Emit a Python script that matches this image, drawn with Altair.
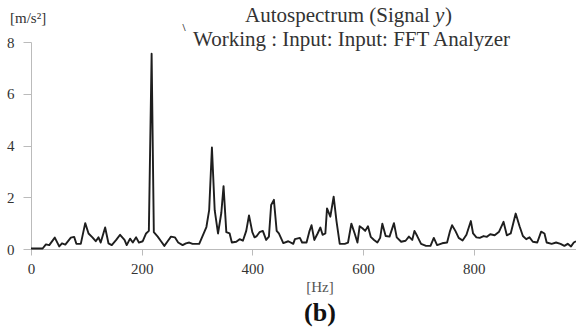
import altair as alt
import pandas as pd

# Frequency (Hz) and autospectrum value (m/s^2)
freq = [0, 21, 27, 33, 43, 51, 56, 62, 72, 78, 82, 90, 98, 104, 111, 117, 122, 126,
        134, 140, 146, 154, 161, 169, 173, 179, 184, 190, 195, 202, 208, 213, 218,
        222, 229, 235, 241, 247, 253, 260, 266, 274, 280, 286, 292, 304, 311, 317,
        322, 327, 332, 338, 344, 348, 353, 359, 363, 371, 377, 383, 389, 394, 400,
        404, 408, 413, 419, 425, 430, 434, 439, 444, 448, 456, 465, 474, 477, 486,
        490, 498, 503, 507, 512, 518, 523, 527, 532, 535, 541, 547, 552, 558, 567,
        573, 579, 585, 590, 594, 599, 604, 609, 614, 620, 626, 631, 635, 641, 648,
        656, 661, 669, 677, 683, 689, 693, 698, 705, 714, 722, 728, 734, 743, 752,
        757, 761, 767, 773, 780, 787, 795, 799, 805, 811, 818, 824, 830, 838, 846,
        854, 860, 867, 876, 883, 889, 895, 901, 907, 915, 922, 928, 932, 941, 949,
        957, 964, 970, 976, 981, 985]
amp = [0.02, 0.02, 0.18, 0.15, 0.44, 0.10, 0.22, 0.17, 0.44, 0.47, 0.20, 0.20, 1.00,
       0.60, 0.45, 0.30, 0.45, 0.25, 0.83, 0.22, 0.15, 0.35, 0.55, 0.35, 0.15, 0.40,
       0.25, 0.45, 0.25, 0.30, 0.60, 0.70, 7.55, 0.65, 0.48, 0.30, 0.12, 0.30, 0.48,
       0.45, 0.25, 0.15, 0.22, 0.25, 0.20, 0.20, 0.55, 0.85, 1.50, 3.92, 1.50, 0.60,
       1.40, 2.43, 0.65, 0.60, 0.25, 0.28, 0.38, 0.32, 0.70, 1.30, 0.65, 0.45, 0.50,
       0.65, 0.70, 0.35, 0.48, 1.70, 1.90, 0.70, 0.60, 0.23, 0.30, 0.20, 0.38, 0.43,
       0.25, 0.25, 0.67, 0.92, 0.35, 0.60, 0.83, 0.55, 0.60, 1.57, 1.25, 2.02, 1.10,
       0.20, 0.20, 0.25, 0.98, 0.60, 0.25, 0.88, 0.80, 0.70, 0.88, 0.47, 0.35, 0.25,
       0.43, 0.98, 0.50, 0.48, 1.00, 0.45, 0.28, 0.32, 0.48, 0.35, 0.70, 0.50, 0.20,
       0.12, 0.12, 0.43, 0.15, 0.22, 0.25, 0.67, 0.92, 0.70, 0.43, 0.33, 0.55, 1.08,
       0.60, 0.45, 0.43, 0.50, 0.47, 0.57, 0.53, 0.67, 1.05, 0.53, 0.60, 1.37, 0.88,
       0.50, 0.38, 0.45, 0.28, 0.25, 0.67, 0.60, 0.25, 0.20, 0.25, 0.20, 0.12, 0.20,
       0.10, 0.25, 0.30]

x_ticks = [0, 200, 400, 600, 800]
y_ticks = [0, 2, 4, 6, 8]

title_main = "Autospectrum (Signal "
title_var = "y"
title_close = ")"
subtitle = "Working : Input: Input: FFT Analyzer"
y_unit = "[m/s²]"
x_unit = "[Hz]"
panel = "(b)"

FONT = "Liberation Serif"
df = pd.DataFrame({"freq": freq, "amp": amp})

line = alt.Chart(df).mark_line(color="#1e1e1e", strokeWidth=1.9, strokeJoin="round").encode(
    x=alt.X("freq:Q", scale=alt.Scale(domain=[0, 985], nice=False, zero=False),
            axis=alt.Axis(values=x_ticks, title=None, grid=False, tickSize=6,
                          labelPadding=6, domainColor="#bbbbbb", tickColor="#bbbbbb",
                          labelFont=FONT, labelFontSize=15, labelColor="#333333",
                          labelFlush=False, labelOverlap=False)),
    y=alt.Y("amp:Q", scale=alt.Scale(domain=[0, 8], nice=False),
            axis=alt.Axis(values=y_ticks, title=None, grid=False, tickSize=8,
                          labelPadding=9, domainColor="#bbbbbb", tickColor="#bbbbbb",
                          labelFont=FONT, labelFontSize=15, labelColor="#333333",
                          labelFlush=False)),
)


def txt(text, x, y, size, align="left", color="#333333", weight="normal", style="normal"):
    return alt.Chart(alt.Data(values=[{}])).mark_text(
        text=text, align=align, baseline="alphabetic", font=FONT, fontSize=size,
        color=color, fontWeight=weight, fontStyle=style
    ).encode(x=alt.value(x), y=alt.value(y))


texts = [
    txt(title_main, 214, -20, 21),
    txt(title_var, 404, -20, 21, style="italic"),
    txt(title_close, 414, -20, 21),
    txt(subtitle, 162, 4, 21),
    txt("\\", 153, -11, 11, align="center", weight="bold"),
    txt(y_unit, -21, -19, 15),
    txt(x_unit, 289, 250, 15, align="center", color="#555555"),
    txt(panel, 289, 279, 26, align="center", color="#111111", weight="bold"),
]

chart = alt.layer(line, *texts).properties(
    width=545, height=207,
    padding={"left": 31, "top": 42, "right": 0, "bottom": 78},
    autosize=alt.AutoSizeParams(type="none"),
).configure_view(strokeWidth=0)

chart.save("out.html", embed_options={"renderer": "svg", "actions": False})
